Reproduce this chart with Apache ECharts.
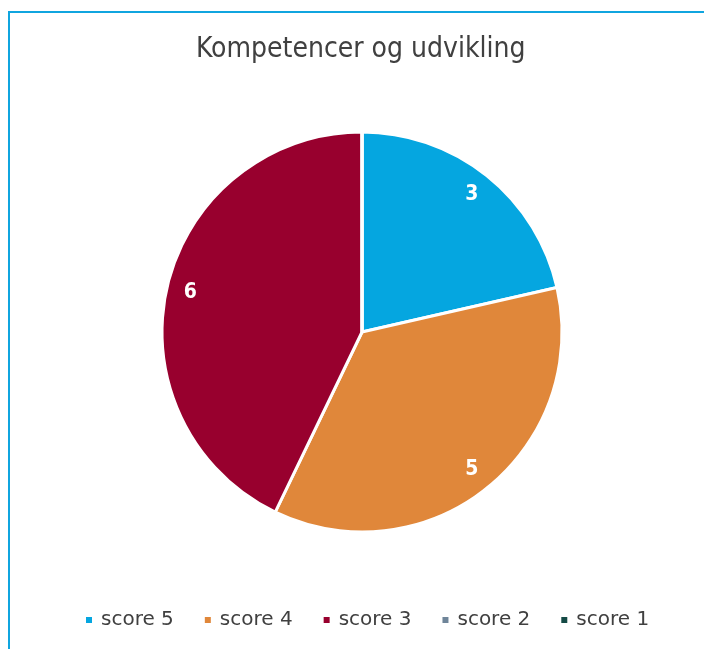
<!DOCTYPE html>
<html>
<head>
<meta charset="utf-8">
<script src="https://cdn.jsdelivr.net/npm/echarts@6/dist/echarts.min.js"></script>
<style>
  html, body { margin: 0; padding: 0; background: #fff; }
  #chart { width: 704px; height: 649px; }
</style>
</head>
<body>
<div id="chart"></div>
<script>
// data
var categories = ['score 5', 'score 4', 'score 3', 'score 2', 'score 1'];
var values = [3, 5, 6, 0, 0];
var colors = ['#05a6e0', '#e0873a', '#98002e', '#6f8599', '#154a45'];

var chart = echarts.init(document.getElementById('chart'));

var pieData = categories.map(function (name, i) {
    return { name: name, value: values[i], itemStyle: { color: colors[i] } };
});

var condFont = "'DejaVu Sans Condensed', 'DejaVu Sans', sans-serif";

var option = {
    backgroundColor: '#fff',
    animation: false,
    title: {
        text: 'Kompetencer og udvikling',
        left: 191,
        top: 31,
        textStyle: {
            fontFamily: condFont,
            fontSize: 28,
            fontWeight: 'normal',
            color: '#404040'
        }
    },
    legend: {
        data: categories,
        top: 605,
        left: 79,
        icon: 'rect',
        itemWidth: 8,
        itemHeight: 8,
        itemGap: 29,
        textStyle: {
            fontFamily: "'DejaVu Sans', sans-serif",
            fontSize: 20,
            color: '#404040',
            padding: [0, 0, 0, 3]
        }
    },
    graphic: [{
        type: 'rect',
        shape: { x: 9, y: 12, width: 720, height: 700 },
        style: { fill: 'none', stroke: '#10a5df', lineWidth: 2 },
        silent: true
    }],
    series: [{
        name: 'Kompetencer',
        type: 'pie',
        center: [362, 332],
        radius: [0, 200],
        startAngle: 90,
        clockwise: true,
        data: pieData,
        itemStyle: { borderColor: '#fff', borderWidth: 3 },
        label: { show: false },
        labelLine: { show: false },
        emphasis: { disabled: true }
    }, {
        // label ring only
        name: 'labels',
        type: 'pie',
        center: [362, 332],
        radius: [146, 200],
        startAngle: 90,
        clockwise: true,
        silent: true,
        data: pieData.map(function (d) {
            return { name: d.name, value: d.value, itemStyle: { color: 'transparent' } };
        }),
        itemStyle: { borderWidth: 0 },
        label: {
            show: true,
            position: 'inside',
            color: '#fff',
            fontFamily: condFont,
            fontSize: 21,
            fontWeight: 'bold',
            formatter: function (p) { return p.value ? String(p.value) : ''; }
        },
        labelLine: { show: false },
        emphasis: { disabled: true }
    }]
};

chart.setOption(option);
</script>
</body>
</html>
